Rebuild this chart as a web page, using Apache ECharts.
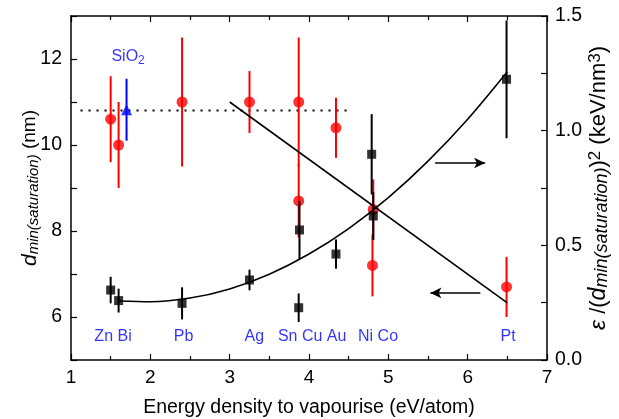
<!DOCTYPE html>
<html><head><meta charset="utf-8">
<script src="https://cdn.jsdelivr.net/npm/echarts@6/dist/echarts.min.js"></script>
<style>html,body{margin:0;padding:0;background:#fff}#c{width:619px;height:419px}</style>
</head><body><div id="c"></div>
<script>
// ---- data ----
const xTickLabels = [1, 2, 3, 4, 5, 6, 7];
const leftTickLabels = [6, 8, 10, 12];
const rightTickLabels = ['0.0', '0.5', '1.0', '1.5'];

// red circles: d_min(saturation) (nm) -> left axis
const redX   = [1.50, 1.60, 2.40, 3.25, 3.87, 3.87, 4.34, 4.80, 4.81, 6.49];
const redY   = [10.6, 10.0, 11.0, 11.0, 11.0, 8.7, 10.4, 7.2, 8.5, 6.7];
const redErr = [1.0, 1.0, 1.5, 0.72, 1.5, 0.85, 0.7, 0.72, 0.7, 0.7];

// SiO2 (blue triangle) -> left axis
const sioX = [1.70];
const sioY = [10.82];
const sioErr = [0.72];

// black squares: eps/d^2 (keV/nm^3) -> right axis
const blkX   = [1.50, 1.60, 2.40, 3.25, 3.87, 3.88, 4.34, 4.79, 4.81, 6.49];
const blkY   = [0.305, 0.259, 0.247, 0.349, 0.228, 0.567, 0.462, 0.897, 0.628, 1.224];
const blkErr = [0.058, 0.052, 0.07, 0.045, 0.062, 0.127, 0.064, 0.175, 0.105, 0.257];

// fitted curve -> right axis
const fitX = [1.6, 2.0, 2.5, 3.0, 3.5, 4.0, 4.5, 5.0, 5.5, 6.0, 6.5];
const fitY = [0.257, 0.254, 0.270, 0.310, 0.374, 0.462, 0.573, 0.708, 0.867, 1.050, 1.257];

// straight decreasing line -> left axis
const lineX = [3.0, 6.5];
const lineY = [11.0, 6.33];

// dotted horizontal line -> left axis
const dotX = [1.12, 4.5];
const dotY = [10.8, 10.8];

// arrows
const arrowRightX = [5.59, 6.22]; const arrowRightY = [0.859, 0.859]; // right axis
const arrowLeftX  = [6.16, 5.53]; const arrowLeftY  = [6.56, 6.56];   // left axis

// element labels (left axis coordinates)
const elemLabels = ['Zn Bi', 'Pb', 'Ag', 'Sn Cu Au', 'Ni Co', 'Pt'];
const elemX = [1.53, 2.42, 3.31, 4.04, 4.87, 6.51];
const elemY = [5.55, 5.55, 5.55, 5.55, 5.55, 5.55];
const sioLabelX = [1.72]; const sioLabelY = [12.03];

// ---- chart ----
const FONT = 'Liberation Sans, Arial, Helvetica, sans-serif';
const chart = echarts.init(document.getElementById('c'), null, {renderer: 'canvas'});

function errSeries(xs, ys, es, color, yAxisIndex, z) {
  return {
    type: 'custom', xAxisIndex: 0, yAxisIndex: yAxisIndex, silent: true, z: z,
    data: xs.map((x, i) => [x, ys[i] - es[i], ys[i] + es[i]]),
    encode: {x: 0, y: [1, 2]},
    renderItem: function (params, api) {
      const p1 = api.coord([api.value(0), api.value(1)]);
      const p2 = api.coord([api.value(0), api.value(2)]);
      return {type: 'line', shape: {x1: p1[0], y1: p1[1], x2: p2[0], y2: p2[1]},
              style: {stroke: color, lineWidth: 2}};
    }
  };
}
function pts(xs, ys) { return xs.map((x, i) => [x, ys[i]]); }

const axisLineStyle = {show: true, lineStyle: {color: '#000', width: 1.5}};
const tickStyle = {lineStyle: {color: '#000', width: 1.2}};

const option = {
  animation: false,
  backgroundColor: '#fff',
  grid: {left: 71, right: 72, top: 16, bottom: 59, containLabel: false, outerBoundsMode: 'none'},
  xAxis: [
    {type: 'value', min: 1, max: 7, interval: 1, position: 'bottom',
     axisLine: axisLineStyle,
     axisTick: Object.assign({show: true, inside: true, length: 6}, tickStyle),
     minorTick: {show: true, splitNumber: 2, length: 4, lineStyle: {color: '#000', width: 1.2}},
     splitLine: {show: false},
     axisLabel: {color: '#000', fontSize: 19, fontFamily: FONT, margin: 8,
                 formatter: v => (xTickLabels.includes(v) ? String(v) : '')},
     name: 'Energy density to vapourise (eV/atom)', nameLocation: 'middle', nameGap: 38, nameMoveOverlap: false,
     nameTextStyle: {color: '#000', fontSize: 19.5, fontFamily: FONT}},
    {type: 'value', min: 1, max: 7, interval: 1, position: 'top',
     axisLine: axisLineStyle,
     axisTick: Object.assign({show: true, inside: true, length: 6}, tickStyle),
     minorTick: {show: true, splitNumber: 2, length: 4, lineStyle: {color: '#000', width: 1.2}},
     splitLine: {show: false}, axisLabel: {show: false}}
  ],
  yAxis: [
    {type: 'value', min: 5, max: 13, interval: 1, position: 'left',
     axisLine: axisLineStyle,
     axisTick: Object.assign({show: true, inside: true, length: 6}, tickStyle),
     splitLine: {show: false},
     axisLabel: {color: '#000', fontSize: 19.5, fontFamily: FONT, margin: 9,
                 formatter: v => (leftTickLabels.includes(v) ? String(v) : '')},
     name: '{i|d}{s|min(saturation)}{n| (nm)}', nameLocation: 'middle', nameGap: 30, nameRotate: 90,
     nameMoveOverlap: false,
     nameTextStyle: {color: '#000', fontFamily: FONT,
       rich: {
         i: {fontSize: 21, fontStyle: 'italic', fontFamily: FONT, lineHeight: 22, padding: [4, 0, 4, 0], verticalAlign: 'middle'},
         n: {fontSize: 19, fontFamily: FONT, lineHeight: 22, padding: [4, 0, 4, 0], verticalAlign: 'middle'},
         s: {fontSize: 15, fontStyle: 'italic', fontFamily: FONT, lineHeight: 15, verticalAlign: 'bottom'}
       }}},
    {type: 'value', min: 0, max: 1.5, interval: 0.5, position: 'right',
     axisLine: axisLineStyle,
     axisTick: Object.assign({show: true, inside: true, length: 6}, tickStyle),
     minorTick: {show: true, splitNumber: 2, length: 6, lineStyle: {color: '#000', width: 1.2}},
     splitLine: {show: false},
     axisLabel: {color: '#000', fontSize: 19.5, fontFamily: FONT, margin: 8,
                 formatter: v => { const s = v.toFixed(1); return rightTickLabels.includes(s) ? s : ''; }},
     name: '{i|ε}{n| /(}{i|d}{s|min(saturation)}{n|)}{p|2}{n| (keV/nm}{p|3}{n|)}',
     nameLocation: 'middle', nameGap: 40, nameRotate: 90, nameMoveOverlap: false,
     nameTextStyle: {color: '#000', fontFamily: FONT,
       rich: {
         i: {fontSize: 23, fontStyle: 'italic', fontFamily: FONT, lineHeight: 24, padding: [5, 0, 5, 0], verticalAlign: 'middle'},
         n: {fontSize: 22, fontFamily: FONT, lineHeight: 24, padding: [5, 0, 5, 0], verticalAlign: 'middle'},
         s: {fontSize: 18, fontStyle: 'italic', fontFamily: FONT, lineHeight: 18, verticalAlign: 'bottom'},
         p: {fontSize: 17, fontFamily: FONT, lineHeight: 17, verticalAlign: 'top'}
       }}}
  ],
  series: [
    // dotted line
    {type: 'line', xAxisIndex: 0, yAxisIndex: 0, data: pts(dotX, dotY), symbol: 'none', silent: true,
     lineStyle: {color: '#000', width: 2, type: [2, 6]}, z: 1},
    // red error bars + points
    errSeries(redX, redY, redErr, '#ff0000', 0, 2),
    {type: 'scatter', xAxisIndex: 0, yAxisIndex: 0, data: pts(redX, redY), symbol: 'circle', symbolSize: 11,
     itemStyle: {color: '#ff0000'}, z: 3},
    // SiO2
    errSeries(sioX, sioY, sioErr, '#0000ff', 0, 2),
    {type: 'scatter', xAxisIndex: 0, yAxisIndex: 0, data: pts(sioX, sioY), symbol: 'triangle', symbolSize: 11,
     itemStyle: {color: '#0000ff'}, z: 3},
    // straight line (left axis)
    {type: 'line', xAxisIndex: 0, yAxisIndex: 0, data: pts(lineX, lineY), symbol: 'none', silent: true,
     lineStyle: {color: '#000', width: 1.6}, z: 4},
    // fit curve (right axis)
    {type: 'line', xAxisIndex: 0, yAxisIndex: 1, data: pts(fitX, fitY), symbol: 'none', smooth: 0.3, silent: true,
     lineStyle: {color: '#000', width: 1.6}, z: 4},
    // black error bars + squares
    errSeries(blkX, blkY, blkErr, '#000', 1, 5),
    {type: 'scatter', xAxisIndex: 0, yAxisIndex: 1, data: pts(blkX, blkY), symbol: 'rect', symbolSize: 9,
     itemStyle: {color: '#000'}, z: 6},
    // arrows
    {type: 'line', xAxisIndex: 0, yAxisIndex: 1, data: [], silent: true, z: 6,
     markLine: {silent: true, symbol: ['none', 'arrow'], symbolSize: [8, 11], label: {show: false},
       lineStyle: {color: '#000', width: 1.6, type: 'solid'},
       data: [[{coord: [arrowRightX[0], arrowRightY[0]]}, {coord: [arrowRightX[1], arrowRightY[1]]}]]}},
    {type: 'line', xAxisIndex: 0, yAxisIndex: 0, data: [], silent: true, z: 6,
     markLine: {silent: true, symbol: ['none', 'arrow'], symbolSize: [8, 11], label: {show: false},
       lineStyle: {color: '#000', width: 1.6, type: 'solid'},
       data: [[{coord: [arrowLeftX[0], arrowLeftY[0]]}, {coord: [arrowLeftX[1], arrowLeftY[1]]}]]}},
    // element labels
    {type: 'scatter', xAxisIndex: 0, yAxisIndex: 0, silent: true, symbolSize: 0, z: 7,
     data: elemX.map((x, i) => ({value: [x, elemY[i]], name: elemLabels[i]})),
     label: {show: true, position: 'inside', formatter: p => p.name, color: '#0000ff', fontSize: 16, fontFamily: FONT}},
    {type: 'scatter', xAxisIndex: 0, yAxisIndex: 0, silent: true, symbolSize: 0, z: 7,
     data: [{value: [sioLabelX[0], sioLabelY[0]], name: 'SiO2'}],
     label: {show: true, position: 'inside', formatter: '{a|SiO}{b|2}', color: '#0000ff',
       rich: {a: {fontSize: 16, fontFamily: FONT, color: '#0000ff', lineHeight: 18, padding: [0, 0, 4, 0], verticalAlign: 'top'},
              b: {fontSize: 12, fontFamily: FONT, color: '#0000ff', lineHeight: 12, verticalAlign: 'bottom'}}}}
  ]
};
chart.setOption(option);
</script>
</body></html>
